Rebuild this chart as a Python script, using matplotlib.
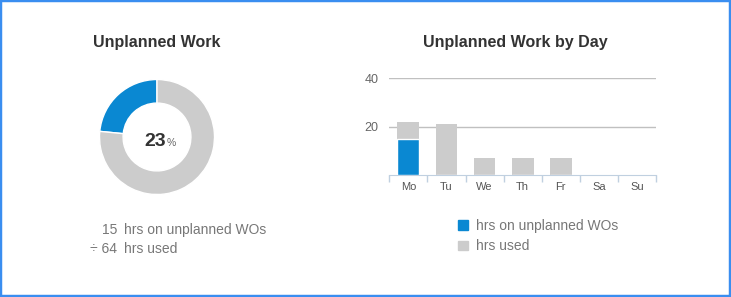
import matplotlib
matplotlib.use("Agg")
import matplotlib.pyplot as plt
from matplotlib.patches import Patch, Rectangle

plt.rcParams['font.family'] = ['Liberation Sans', 'DejaVu Sans']

# data
unplanned_hrs = 15
used_hrs = 64
days = ['Mo', 'Tu', 'We', 'Th', 'Fr', 'Sa', 'Su']
day_used = [22, 21, 7, 7, 7, 0, 0]
day_unplanned = [15, 0, 0, 0, 0, 0, 0]
y_ticks = [20, 40]

BLUE = '#0a88d2'
GRAY = '#cccccc'
W, H = 731, 297

fig = plt.figure(figsize=(W / 100, H / 100), dpi=100)
fig.patch.set_facecolor('white')
# blue frame
fig.patches.append(Rectangle((0, 0), 1, 1, transform=fig.transFigure,
                             fill=False, edgecolor='#3a8ef0', linewidth=3.2))

# --- donut ---
cx, cy, r = 157, 137, 57.5
ax1 = fig.add_axes([(cx - r) / W, (H - cy - r) / H, 2 * r / W, 2 * r / H])
ax1.pie([unplanned_hrs, used_hrs - unplanned_hrs], colors=[BLUE, GRAY],
        startangle=90, counterclock=True, radius=1,
        wedgeprops=dict(width=0.41, edgecolor='white', linewidth=1))
ax1.set_xlim(-1, 1)
ax1.set_ylim(-1, 1)
pct = round(100 * unplanned_hrs / used_hrs)
ax1.text(0.16, -0.15, str(pct), ha='right', va='baseline', fontsize=14,
         fontweight='bold', color='#333333')
ax1.text(0.17, -0.15, '%', ha='left', va='baseline', fontsize=7.5, color='#666666')

fig.text(157 / W, 1 - 43 / H, 'Unplanned Work', ha='center', va='center',
         fontsize=11.5, fontweight='bold', color='#333333')
fig.text(117 / W, 1 - 230 / H, str(unplanned_hrs), ha='right', va='center',
         fontsize=10, color='#777777')
fig.text(124 / W, 1 - 230 / H, 'hrs on unplanned WOs', ha='left', va='center',
         fontsize=10, color='#777777')
fig.text(117 / W, 1 - 249 / H, '\u00f7 ' + str(used_hrs), ha='right', va='center',
         fontsize=10, color='#777777')
fig.text(124 / W, 1 - 249 / H, 'hrs used', ha='left', va='center',
         fontsize=10, color='#777777')

# --- bars by day ---
x0, x1, ytop, ybot = 389.3, 656, 78.3, 175.3
ax2 = fig.add_axes([x0 / W, (H - ybot) / H, (x1 - x0) / W, (ybot - ytop) / H])
xs = range(len(days))
ax2.bar(xs, day_used, width=0.57, color=GRAY, zorder=2)
ax2.bar(xs, day_unplanned, width=0.57, color=BLUE, edgecolor='white',
        linewidth=1, zorder=3)
ax2.set_xlim(-0.5, len(days) - 0.5)
ax2.set_ylim(0, 40)
ax2.set_yticks(y_ticks)
ax2.set_xticks(list(xs))
ax2.set_xticklabels(days)
ax2.set_xticks([i - 0.5 for i in range(len(days) + 1)], minor=True)
ax2.tick_params(axis='x', which='major', length=0, pad=5, labelsize=8,
                labelcolor='#555555')
ax2.tick_params(axis='x', which='minor', length=5, color='#c0d0e0', width=1)
ax2.tick_params(axis='y', length=0, pad=8, labelsize=9, labelcolor='#666666')
ax2.grid(axis='y', color='#c0c0c0', linewidth=1, zorder=0)
for s in ['top', 'right', 'left']:
    ax2.spines[s].set_visible(False)
ax2.spines['bottom'].set_color('#c0d0e0')
ax2.set_axisbelow(True)

fig.text(515 / W, 1 - 43 / H, 'Unplanned Work by Day', ha='center', va='center',
         fontsize=11.5, fontweight='bold', color='#333333')

handles = [Patch(color=BLUE, label='hrs on unplanned WOs'),
           Patch(color=GRAY, label='hrs used')]
fig.legend(handles=handles, loc='upper left',
           bbox_to_anchor=(458 / W, 1 - 219 / H), frameon=False,
           handlelength=0.7, handleheight=0.7, handletextpad=0.6,
           labelspacing=0.45, fontsize=10, labelcolor='#777777',
           borderaxespad=0, borderpad=0)

fig.savefig('out.png', dpi=100)
